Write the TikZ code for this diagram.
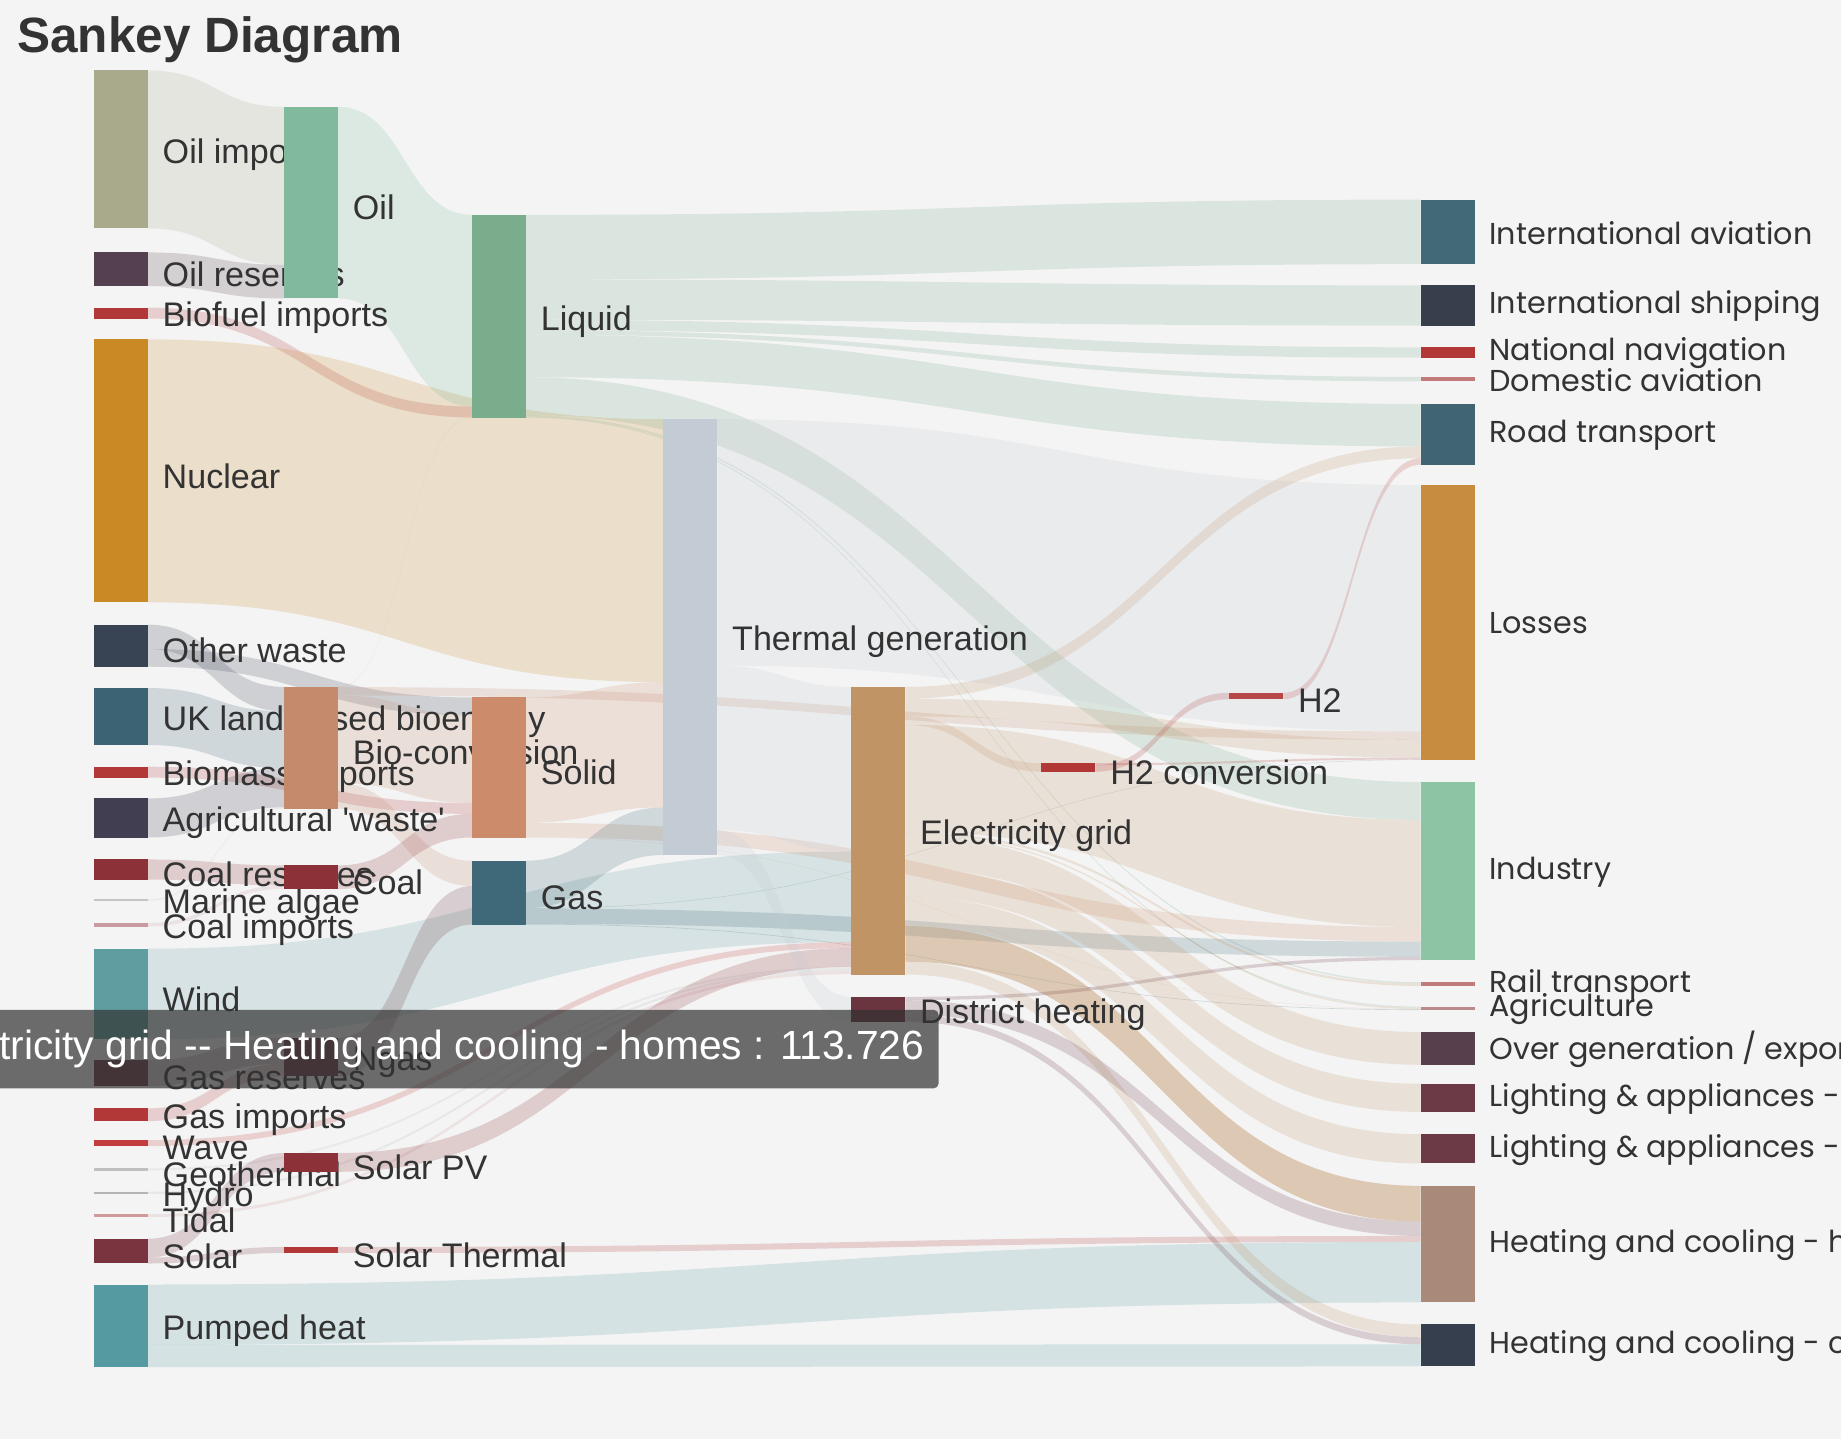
\documentclass[tikz,border=0pt]{standalone}
\usepackage{fontspec}
\setmainfont{Liberation Sans}
\newfontfamily\rightfont{Poppins}
\usetikzlibrary{positioning,calc}

\pgfdeclarelayer{flows}
\pgfdeclarelayer{labels}
\pgfdeclarelayer{tip}
\pgfsetlayers{flows,labels,main,tip}

\definecolor{bgGray}{HTML}{F4F4F4}
\definecolor{titleGray}{HTML}{333333}
\definecolor{tipGray}{HTML}{323232}
\definecolor{cOilImp}{HTML}{A9AA8B}
\definecolor{cOilRes}{HTML}{54404E}
\definecolor{cRed}{HTML}{B23838}
\definecolor{cNuclear}{HTML}{C98A26}
\definecolor{cOtherWaste}{HTML}{384354}
\definecolor{cUKland}{HTML}{3C6373}
\definecolor{cAgri}{HTML}{403E50}
\definecolor{cCoal}{HTML}{8C3138}
\definecolor{cMarine}{HTML}{C5C5C5}
\definecolor{cCoalImp}{HTML}{C99AA0}
\definecolor{cWind}{HTML}{5F9EA0}
\definecolor{cGasRes}{HTML}{6B3A46}
\definecolor{cWave}{HTML}{C23D3D}
\definecolor{cGeo}{HTML}{BFBFBF}
\definecolor{cHydro}{HTML}{B5B5B5}
\definecolor{cTidal}{HTML}{D09A9A}
\definecolor{cSolar}{HTML}{7A3440}
\definecolor{cPumped}{HTML}{549AA0}
\definecolor{cOil}{HTML}{80B99B}
\definecolor{cBio}{HTML}{C48A6C}
\definecolor{cNgas}{HTML}{6B3A46}
\definecolor{cLiquid}{HTML}{79AD8C}
\definecolor{cSolid}{HTML}{CC8C6C}
\definecolor{cGas}{HTML}{3F6878}
\definecolor{cThermal}{HTML}{C3CBD4}
\definecolor{cGrid}{HTML}{C19466}
\definecolor{cDistrict}{HTML}{6B3540}
\definecolor{cHtwo}{HTML}{B84848}
\definecolor{cIntAv}{HTML}{416A76}
\definecolor{cIntShip}{HTML}{383F4C}
\definecolor{cDomAv}{HTML}{C07A7A}
\definecolor{cRoad}{HTML}{416472}
\definecolor{cLosses}{HTML}{C78C40}
\definecolor{cIndustry}{HTML}{8CC4A4}
\definecolor{cAgric}{HTML}{B88A8A}
\definecolor{cOverGen}{HTML}{573F4B}
\definecolor{cLight}{HTML}{6B3A46}
\definecolor{cHeatH}{HTML}{A98A78}
\definecolor{cHeatC}{HTML}{363F4D}

\def\pxl{0.11741mm}

% [opacity]{source}{offset}{target}{offset}{width}{colour}
\newcommand{\flow}[7][0.2]{%
	\path ($(#2.north east)+(0,-#3)$) coordinate (fa) ++(0,-#6) coordinate (fd)
		($(#4.north west)+(0,-#5)$) coordinate (fb) ++(0,-#6) coordinate (fc)
		($(fa)!0.5!(fb)$) coordinate (fm);
	\fill[#7, fill opacity=#1] (fa) .. controls (fm |- fa) and (fm |- fb) .. (fb) -- (fc)
		.. controls (fm |- fc) and (fm |- fd) .. (fd) -- cycle;
}

\begin{document}
\begin{tikzpicture}[x=\pxl, y=\pxl,
	bar/.style={anchor=north west, inner sep=0pt, outer sep=0pt, minimum width=46*\pxl, minimum height=#1*\pxl},
	lbl/.style={anchor=west, inner sep=0pt, yshift=-0.5mm, text=black!80, font=\fontsize{9.7}{11}\selectfont},
	rlbl/.style={anchor=west, inner sep=0pt, yshift=-0.1mm, text=black!80, font=\rightfont\fontsize{8.6}{10}\selectfont}]
	\useasboundingbox (0,0) rectangle (1568,-1226);
	\node[anchor=base west, inner sep=0pt, text=titleGray, font=\bfseries\fontsize{14.1}{16}\selectfont] (title) at (14,-45) {Sankey Diagram};

	% sources
	\node[bar=134.5, fill=cOilImp] (oilimp) at (80,-60) {};
	\node[bar=28.7, fill=cOilRes] (oilres) at (80,-215) {};
	\node[bar=9.3, fill=cRed] (biofuel) at (80,-262) {};
	\node[bar=224, fill=cNuclear] (nuclear) at (80,-289) {};
	\node[bar=35.8, fill=cOtherWaste] (otherwaste) at (80,-532) {};
	\node[bar=48.5, fill=cUKland] (ukland) at (80,-586) {};
	\node[bar=9.3, fill=cRed] (biomass) at (80,-653) {};
	\node[bar=33.3, fill=cAgri] (agri) at (80,-680) {};
	\node[bar=17.1, fill=cCoal] (coalres) at (80,-732) {};
	\node[bar=1.2, fill=cMarine] (marine) at (80,-766) {};
	\node[bar=3.1, fill=cCoalImp] (coalimp) at (80,-786) {};
	\node[bar=77.2, fill=cWind] (wind) at (80,-808) {};
	\node[bar=21.9, fill=cGasRes] (gasres) at (80,-903) {};
	\node[bar=10.9, fill=cRed] (gasimp) at (80,-944) {};
	\node[bar=5.1, fill=cWave] (wave) at (80,-971) {};
	\node[bar=1.9, fill=cGeo] (geo) at (80,-995) {};
	\node[bar=1.9, fill=cHydro] (hydro) at (80,-1015) {};
	\node[bar=2.5, fill=cTidal] (tidal) at (80,-1034) {};
	\node[bar=21.1, fill=cSolar] (solar) at (80,-1055) {};
	\node[bar=70.3, fill=cPumped] (pumped) at (80,-1094) {};

	% conversion
	\node[bar=163.2, fill=cOil] (oil) at (242,-91) {};
	\node[bar=103.7, fill=cBio] (bioconv) at (242,-585) {};
	\node[bar=20.2, fill=cCoal] (coal) at (242,-737) {};
	\node[bar=32.8, fill=cNgas] (ngas) at (242,-884) {};
	\node[bar=16, fill=cCoal] (solarpv) at (242,-982) {};
	\node[bar=5.1, fill=cRed] (solarth) at (242,-1062) {};
	\node[bar=172.7, fill=cLiquid] (liquid) at (402,-183) {};
	\node[bar=119.3, fill=cSolid] (solid) at (402,-594) {};
	\node[bar=54.4, fill=cGas] (gas) at (402,-733) {};
	\node[bar=371.2, fill=cThermal] (thermal) at (565,-357) {};
	\node[bar=245, fill=cGrid] (grid) at (725,-585) {};
	\node[bar=21.2, fill=cDistrict] (district) at (725,-849) {};
	\node[bar=7.2, fill=cRed] (htwoconv) at (887,-650) {};
	\node[bar=5.6, fill=cHtwo] (htwo) at (1047,-590) {};

	% uses
	\node[bar=55, fill=cIntAv] (intav) at (1210,-170) {};
	\node[bar=34.3, fill=cIntShip] (intship) at (1210,-243) {};
	\node[bar=8.9, fill=cRed] (natnav) at (1210,-295.8) {};
	\node[bar=3.9, fill=cDomAv] (domav) at (1210,-321) {};
	\node[bar=51.9, fill=cRoad] (road) at (1210,-344) {};
	\node[bar=234.2, fill=cLosses] (losses) at (1210,-413) {};
	\node[bar=151.7, fill=cIndustry] (industry) at (1210,-666) {};
	\node[bar=3.3, fill=cDomAv] (rail) at (1210,-836.5) {};
	\node[bar=2.9, fill=cAgric] (agric) at (1210,-857.3) {};
	\node[bar=27.9, fill=cOverGen] (overgen) at (1210,-879) {};
	\node[bar=24, fill=cLight] (lightc) at (1210,-923) {};
	\node[bar=24.9, fill=cLight] (lighth) at (1210,-966) {};
	\node[bar=99.3, fill=cHeatH] (heath) at (1210,-1010) {};
	\node[bar=35.8, fill=cHeatC] (heatc) at (1210,-1128) {};

	\begin{pgfonlayer}{flows}
		\fill[bgGray] (0,0) rectangle (1568,-1226);
		\flow{oilimp}{0}{oil}{0}{134.5}{cOilImp}
		\flow{oilres}{0}{oil}{134.5}{28.7}{cOilRes}
		\flow{biofuel}{0}{liquid}{163.2}{9.3}{cRed}
		\flow{nuclear}{0}{thermal}{0}{224}{cNuclear}
		\flow{otherwaste}{0}{bioconv}{0}{20.75}{cOtherWaste}
		\flow{otherwaste}{20.75}{solid}{0}{15.09}{cOtherWaste}
		\flow{ukland}{0}{bioconv}{20.75}{48.54}{cUKland}
		\flow{biomass}{0}{solid}{89.85}{9.33}{cRed}
		\flow{agri}{0}{bioconv}{69.29}{33.27}{cAgri}
		\flow{coalres}{0}{coal}{0}{17.06}{cCoal}
		\flow{marine}{0}{bioconv}{102.56}{1.17}{cMarine}
		\flow{coalimp}{0}{coal}{17.06}{3.1}{cCoalImp}
		\flow{wind}{0}{grid}{140.2}{77.17}{cWind}
		\flow{gasres}{0}{ngas}{0}{21.93}{cGasRes}
		\flow{gasimp}{0}{ngas}{21.93}{10.86}{cRed}
		\flow{wave}{0}{grid}{217.37}{5.07}{cWave}
		\flow{geo}{0}{grid}{238.42}{1.87}{cGeo}
		\flow{hydro}{0}{grid}{240.29}{1.87}{cHydro}
		\flow{tidal}{0}{grid}{242.16}{2.52}{cTidal}
		\flow{solar}{0}{solarpv}{0}{15.98}{cSolar}
		\flow{solar}{15.98}{solarth}{0}{5.14}{cSolar}
		\flow{pumped}{0}{heath}{47.79}{51.48}{cPumped}
		\flow{pumped}{51.48}{heatc}{16.93}{18.85}{cPumped}
		\flow{oil}{0}{liquid}{0}{163.2}{cOil}
		\flow{bioconv}{0}{liquid}{172.5}{0.16}{cBio}
		\flow{bioconv}{0.16}{losses}{209.9}{7.16}{cBio}
		\flow{bioconv}{7.32}{solid}{15.09}{74.76}{cBio}
		\flow{bioconv}{82.08}{gas}{0}{21.64}{cBio}
		\flow{coal}{0}{solid}{99.18}{20.15}{cCoal}
		\flow{ngas}{0}{gas}{21.64}{32.79}{cNgas}
		\flow{solarpv}{0}{grid}{222.44}{15.98}{cCoal}
		\flow{solarth}{0}{heath}{42.65}{5.14}{cRed}
		\flow{liquid}{0}{intav}{0}{55}{cLiquid}
		\flow{liquid}{55}{intship}{0}{34.3}{cLiquid}
		\flow{liquid}{89.3}{natnav}{0}{8.86}{cLiquid}
		\flow{liquid}{98.16}{domav}{0}{3.86}{cLiquid}
		\flow{liquid}{102.02}{road}{0}{36.23}{cLiquid}
		\flow{liquid}{138.25}{industry}{0}{32.29}{cLiquid}
		\flow{liquid}{170.54}{rail}{0}{1.18}{cLiquid}
		\flow{liquid}{171.72}{agric}{0}{0.97}{cLiquid}
		\flow{solid}{0}{thermal}{224}{106.7}{cSolid}
		\flow{solid}{106.7}{industry}{123.54}{12.4}{cSolid}
		\flow{solid}{119.1}{agric}{2.15}{0.24}{cSolid}
		\flow{gas}{0}{thermal}{330.7}{40.51}{cGas}
		\flow{gas}{40.51}{losses}{233.84}{0.37}{cGas}
		\flow{gas}{40.88}{industry}{135.94}{12.96}{cGas}
		\flow{gas}{53.84}{agric}{2.39}{0.56}{cGas}
		\flow{thermal}{0}{losses}{0}{209.9}{cThermal}
		\flow{thermal}{209.9}{grid}{0}{140.2}{cThermal}
		\flow{thermal}{350.1}{district}{0}{21.16}{cThermal}
		\flow{grid}{0}{road}{36.23}{10.08}{cGrid}
		\flow{grid}{10.08}{losses}{217.06}{15.12}{cGrid}
		\flow{grid}{25.2}{htwoconv}{0}{7.24}{cGrid}
		\flow{grid}{32.44}{industry}{32.29}{91.25}{cGrid}
		\flow{grid}{123.69}{rail}{1.18}{2.1}{cGrid}
		\flow{grid}{125.79}{agric}{0.97}{1.18}{cGrid}
		\flow{grid}{126.97}{overgen}{0}{27.86}{cGrid}
		\flow{grid}{154.83}{lightc}{0}{24}{cGrid}
		\flow{grid}{178.83}{lighth}{0}{24.93}{cGrid}
		\flow[0.45]{grid}{203.76}{heath}{0}{30.33}{cGrid}
		\flow{grid}{234.09}{heatc}{0}{10.9}{cGrid}
		\flow{district}{0}{industry}{148.9}{2.84}{cDistrict}
		\flow{district}{2.84}{heath}{30.33}{12.32}{cDistrict}
		\flow{district}{15.16}{heatc}{10.93}{6}{cDistrict}
		\flow{htwoconv}{0}{losses}{232.18}{1.66}{cRed}
		\flow{htwoconv}{1.66}{htwo}{0}{5.57}{cRed}
		\flow{htwo}{0}{road}{46.31}{5.57}{cHtwo}
	\end{pgfonlayer}

	\begin{pgfonlayer}{labels}
		\node[lbl, right=1.41mm of oilimp] {Oil imports};
		\node[lbl, right=1.41mm of oilres] {Oil reserves};
		\node[lbl, right=1.41mm of biofuel] {Biofuel imports};
		\node[lbl, right=1.41mm of nuclear] {Nuclear};
		\node[lbl, right=1.41mm of otherwaste] {Other waste};
		\node[lbl, right=1.41mm of ukland] {UK land based bioenergy};
		\node[lbl, right=1.41mm of biomass] {Biomass imports};
		\node[lbl, right=1.41mm of agri] {Agricultural \textquotesingle waste\textquotesingle};
		\node[lbl, right=1.41mm of coalres] {Coal reserves};
		\node[lbl, right=1.41mm of marine] {Marine algae};
		\node[lbl, right=1.41mm of coalimp] {Coal imports};
		\node[lbl, right=1.41mm of wind] {Wind};
		\node[lbl, right=1.41mm of gasres] {Gas reserves};
		\node[lbl, right=1.41mm of gasimp] {Gas imports};
		\node[lbl, right=1.41mm of wave] {Wave};
		\node[lbl, right=1.41mm of geo] {Geothermal};
		\node[lbl, right=1.41mm of hydro] {Hydro};
		\node[lbl, right=1.41mm of tidal] {Tidal};
		\node[lbl, right=1.41mm of solar] {Solar};
		\node[lbl, right=1.41mm of pumped] {Pumped heat};
		\node[lbl, right=1.41mm of oil] {Oil};
		\node[lbl, right=1.41mm of bioconv] {Bio-conversion};
		\node[lbl, right=1.41mm of coal] {Coal};
		\node[lbl, right=1.41mm of ngas] {Ngas};
		\node[lbl, right=1.41mm of solarpv] {Solar PV};
		\node[lbl, right=1.41mm of solarth] {Solar Thermal};
		\node[lbl, right=1.41mm of liquid] {Liquid};
		\node[lbl, right=1.41mm of solid] {Solid};
		\node[lbl, right=1.41mm of gas] {Gas};
		\node[lbl, right=1.41mm of thermal] {Thermal generation};
		\node[lbl, right=1.41mm of grid] {Electricity grid};
		\node[lbl, right=1.41mm of district] {District heating};
		\node[lbl, right=1.41mm of htwoconv] {H2 conversion};
		\node[lbl, right=1.41mm of htwo] {H2};
		\node[rlbl, right=1.41mm of intav] {International aviation};
		\node[rlbl, right=1.41mm of intship] {International shipping};
		\node[rlbl, right=1.41mm of natnav] {National navigation};
		\node[rlbl, right=1.41mm of domav] {Domestic aviation};
		\node[rlbl, right=1.41mm of road] {Road transport};
		\node[rlbl, right=1.41mm of losses] {Losses};
		\node[rlbl, right=1.41mm of industry] {Industry};
		\node[rlbl, right=1.41mm of rail] {Rail transport};
		\node[rlbl, right=1.41mm of agric] {Agriculture};
		\node[rlbl, right=1.41mm of overgen] {Over generation / exports};
		\node[rlbl, right=1.41mm of lightc] {Lighting \& appliances - commercial};
		\node[rlbl, right=1.41mm of lighth] {Lighting \& appliances - homes};
		\node[rlbl, right=1.41mm of heath] {Heating and cooling - homes};
		\node[rlbl, right=1.41mm of heatc] {Heating and cooling - commercial};
	\end{pgfonlayer}

	\begin{pgfonlayer}{tip}
		\node[anchor=east, fill=tipGray, fill opacity=0.7, text opacity=1, text=white, rounded corners=0.5mm,
			minimum height=67*\pxl, inner xsep=1.41mm, font=\fontsize{11.6}{13}\selectfont] (tooltip) at (800,-893.5)
			{Electricity grid -{}- Heating and cooling - homes : 113.726};
	\end{pgfonlayer}
\end{tikzpicture}
\end{document}
